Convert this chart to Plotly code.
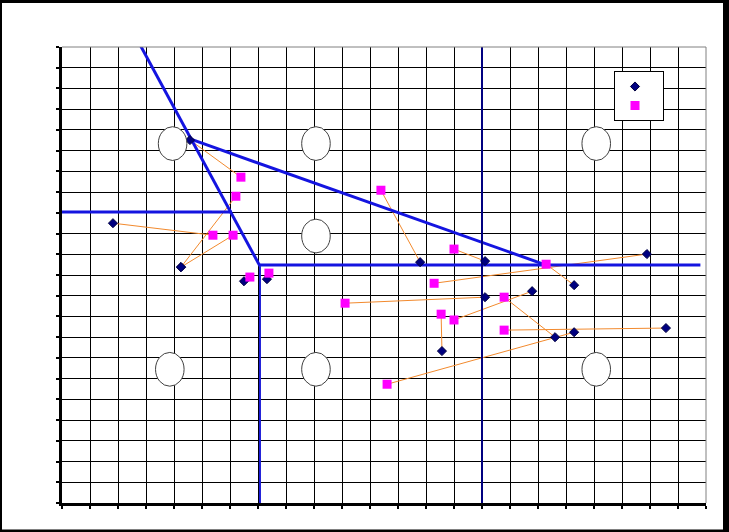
import plotly.graph_objects as go

# Diamond series (navy) and square series (magenta), paired in the same order
diamond_x = [4.57, 4.25, 4.25, 1.82, 6.50, 7.32, 12.79, 15.11, 20.89, 18.29, 15.11, 16.79, 17.61, 13.57, 21.57, 18.29]
diamond_y = [17.51, 11.38, 11.38, 13.50, 10.70, 10.80, 11.62, 11.67, 12.01, 10.51, 9.93, 10.22, 8.00, 7.33, 8.44, 8.24]
square_x = [6.39, 6.21, 6.11, 5.39, 6.71, 7.39, 11.39, 14.00, 13.29, 17.29, 10.11, 14.00, 15.79, 13.54, 15.79, 11.61]
square_y = [15.72, 14.80, 12.92, 12.92, 10.90, 11.09, 15.09, 12.25, 10.60, 11.52, 9.64, 8.83, 9.93, 9.11, 8.34, 5.73]

# Boundary lines (blue)
boundary_lines = [
    ([2.79, 7.07], [22.1, 11.43]),
    ([4.50, 17.29], [17.60, 11.48]),
    ([0.00, 6.07], [14.04, 14.04]),
    ([7.07, 22.80], [11.48, 11.48]),
]
boundary_vertical_x = 7.07
boundary_vertical_y = [11.43, 0.0]
divider_x = 15.0
divider_y = [22.1, 0.0]

# Ellipse markers (centres)
ellipse_x = [3.95, 9.07, 19.08, 9.07, 3.85, 9.07, 19.08]
ellipse_y = [17.34, 17.34, 17.34, 12.88, 6.45, 6.45, 6.45]

X_MAX = 23
Y_MAX = 22

fig = go.Figure()

# orange pair connectors
lx, ly = [], []
for dx, dy, sx, sy in zip(diamond_x, diamond_y, square_x, square_y):
    lx += [dx, sx, None]
    ly += [dy, sy, None]
fig.add_trace(go.Scatter(x=lx, y=ly, mode="lines", line=dict(color="#F28A2E", width=1),
                         showlegend=False, hoverinfo="skip"))

for xs, ys in boundary_lines:
    fig.add_trace(go.Scatter(x=xs, y=ys, mode="lines", line=dict(color="#1414E0", width=3),
                             showlegend=False, hoverinfo="skip"))
fig.add_trace(go.Scatter(x=[boundary_vertical_x, boundary_vertical_x], y=boundary_vertical_y, mode="lines",
                         line=dict(color="#1A1AD8", width=2), showlegend=False, hoverinfo="skip"))
fig.add_trace(go.Scatter(x=[divider_x, divider_x], y=divider_y, mode="lines",
                         line=dict(color="#000080", width=2), showlegend=False, hoverinfo="skip"))

fig.add_trace(go.Scatter(x=diamond_x, y=diamond_y, mode="markers", name=" ",
                         marker=dict(symbol="diamond", size=7, color="#000080",
                                     line=dict(color="#000040", width=1))))
fig.add_trace(go.Scatter(x=square_x, y=square_y, mode="markers", name=" ",
                         marker=dict(symbol="square", size=9, color="#FF00FF",
                                     line=dict(width=0))))

W, H = 729, 532
ML, MR, MT, MB = 62, 23, 47, 29
PW, PH = W - ML - MR, H - MT - MB
def px(x):
    return (x - ML) / PW
def py(y):
    return (H - MB - y) / PH

shapes = []
# white chart area inside the black frame (paper background is black)
shapes.append(dict(type="rect", xref="paper", yref="paper", x0=px(2), x1=px(723),
                   y0=py(3), y1=py(529.5), fillcolor="white", line=dict(width=0), layer="below"))
# plot area top/right border (gray)
shapes.append(dict(type="line", xref="paper", yref="paper", x0=0, x1=1, y0=1, y1=1,
                   line=dict(color="#808080", width=1), layer="above"))
shapes.append(dict(type="line", xref="paper", yref="paper", x0=1, x1=1, y0=0, y1=1,
                   line=dict(color="#808080", width=1), layer="above"))
# ellipses
for cx, cy in zip(ellipse_x, ellipse_y):
    shapes.append(dict(type="circle", xref="x", yref="y", x0=cx - 0.51, x1=cx + 0.51,
                       y0=cy - 0.815, y1=cy + 0.815, fillcolor="white",
                       line=dict(color="#404040", width=1), layer="above"))

axis_common = dict(showgrid=True, gridcolor="black", gridwidth=1, dtick=1, tick0=0,
                   zeroline=False, showline=True, linecolor="black", linewidth=3,
                   ticks="outside", ticklen=3, tickwidth=2, tickcolor="black",
                   showticklabels=False, fixedrange=True)

fig.update_layout(
    width=W, height=H,
    margin=dict(l=ML, r=MR, t=MT, b=MB),
    paper_bgcolor="black", plot_bgcolor="white",
    xaxis=dict(range=[0, X_MAX], **axis_common),
    yaxis=dict(range=[0, Y_MAX], **axis_common),
    shapes=shapes,
    showlegend=True,
    legend=dict(x=px(614), y=py(71), xanchor="left", yanchor="top",
                bgcolor="white", bordercolor="black", borderwidth=1,
                font=dict(size=9, color="white"), itemwidth=30, tracegroupgap=0),
)

fig.write_html("out.html", config={"displayModeBar": False},
               post_script="document.body.style.margin='0';document.body.style.overflow='hidden';")
